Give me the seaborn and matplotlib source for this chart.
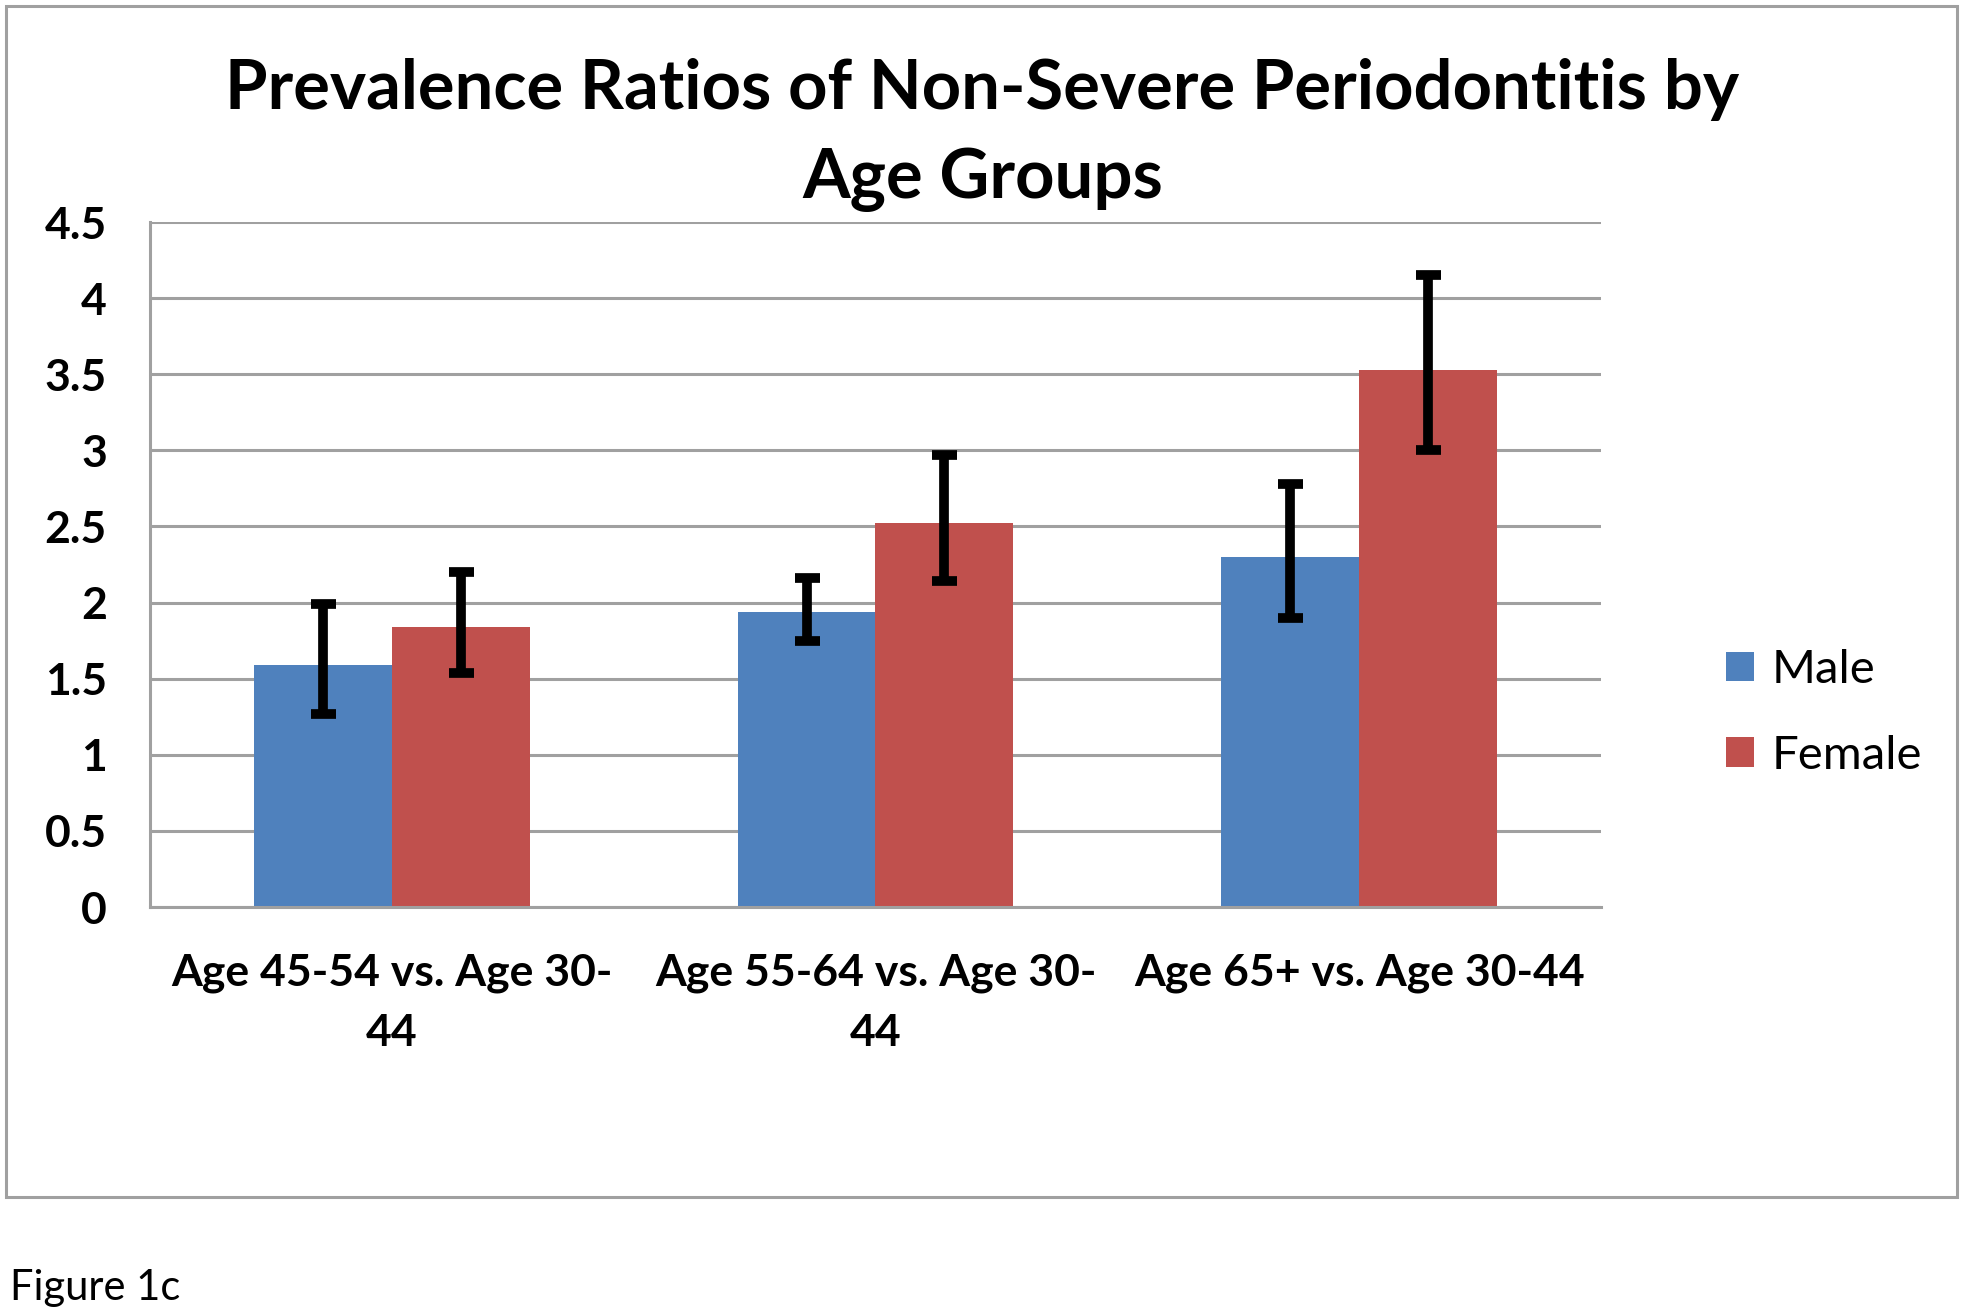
import pandas as pd
import numpy as np
import matplotlib
matplotlib.use('Agg')
import matplotlib.pyplot as plt
import seaborn as sns
from matplotlib.patches import Rectangle

comparisons = ['Age 45-54 vs. Age 30-\n44', 'Age 55-64 vs. Age 30-\n44', 'Age 65+ vs. Age 30-44']
sexes = ['Male', 'Female']
male_ratio = [1.59, 1.94, 2.30]
female_ratio = [1.84, 2.52, 3.53]
male_low = [1.27, 1.75, 1.90]
male_high = [1.99, 2.16, 2.78]
female_low = [1.54, 2.14, 3.00]
female_high = [2.20, 2.97, 4.15]

sns.set_style('white')
plt.rcParams['font.family'] = ['Lato', 'DejaVu Sans']
plt.rcParams['text.color'] = 'black'
plt.rcParams['xtick.labelcolor'] = 'black'
plt.rcParams['ytick.labelcolor'] = 'black'

df = pd.DataFrame({
    'comparison': comparisons * 2,
    'sex': ['Male'] * 3 + ['Female'] * 3,
    'ratio': male_ratio + female_ratio,
})

W, H = 1965, 1313
fig = plt.figure(figsize=(W / 100, H / 100), dpi=100)
ax = fig.add_axes([150 / W, 1 - 907 / H, (1601 - 150) / W, (907 - 222) / H])

blue = '#4F81BD'
red = '#C0504D'
sns.barplot(data=df, x='comparison', y='ratio', hue='sex', hue_order=sexes,
            palette=[blue, red], width=0.57, errorbar=None, saturation=1,
            linewidth=0, ax=ax)

# error bars (asymmetric intervals) at bar centres
lows = [male_low, female_low]
highs = [male_high, female_high]
vals = [male_ratio, female_ratio]
for cont, v, lo, hi in zip(ax.containers, vals, lows, highs):
    xs = [p.get_x() + p.get_width() / 2 for p in cont]
    v = np.array(v)
    yerr = [v - np.array(lo), np.array(hi) - v]
    ax.errorbar(xs, v, yerr=yerr, fmt='none', ecolor='black', elinewidth=7,
                capsize=9, capthick=7, zorder=5)

ax.set_ylim(0, 4.5)
ax.set_yticks(np.arange(0, 4.51, 0.5))
ax.set_yticklabels(['0', '0.5', '1', '1.5', '2', '2.5', '3', '3.5', '4', '4.5'])
ax.set_xlim(-0.5, 2.5)
ax.yaxis.grid(True, color='#a0a0a0', linewidth=2.2)
ax.set_axisbelow(True)
for s in ['top', 'right']:
    ax.spines[s].set_visible(False)
for s in ['left', 'bottom']:
    ax.spines[s].set_color('#a0a0a0')
    ax.spines[s].set_linewidth(2.2)
ax.tick_params(axis='y', length=4, width=2.2, color='#a0a0a0', pad=27, labelsize=32)
ax.tick_params(axis='x', length=0, pad=33, labelsize=32)
for lab in ax.get_xticklabels() + ax.get_yticklabels():
    lab.set_fontweight('bold')
for lab in ax.get_xticklabels():
    lab.set_linespacing(1.62)
ax.set_xlabel('')
ax.set_ylabel('')

handles, labels = ax.get_legend_handles_labels()
ax.legend(handles, labels, loc='center left', bbox_to_anchor=(1684 / W, 1 - 713 / H),
          bbox_transform=fig.transFigure, frameon=False, fontsize=34,
          handlelength=0.58, handleheight=0.58, handletextpad=0.37, labelspacing=0.92)

fig.text(0.5, 1 - 58 / H, 'Prevalence Ratios of Non-Severe Periodontitis by\nAge Groups',
         ha='center', va='top', fontsize=49.5, fontweight='bold', linespacing=1.5)

fig.patches.append(Rectangle((6 / W, 1 - 1197 / H), (1957 - 6) / W, (1197 - 6) / H,
                             transform=fig.transFigure, fill=False,
                             edgecolor='#a0a0a0', linewidth=2.2))
fig.text(10 / W, 1 - 1300 / H, 'Figure 1c', ha='left', va='baseline', fontsize=30)

fig.savefig('out.png', dpi=100)
